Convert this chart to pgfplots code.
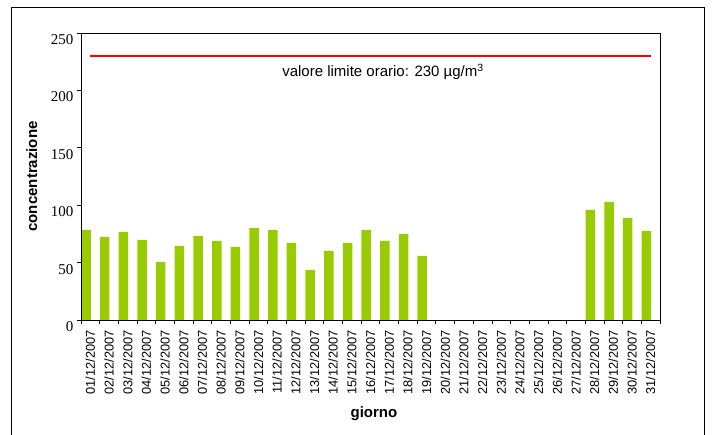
\documentclass[border=0pt]{standalone}
\usepackage{fontspec}
\setmainfont{Liberation Sans}
\newfontfamily\serif{Liberation Serif}
\usepackage{pgfplots}
\pgfplotsset{compat=1.18}
\definecolor{barg}{RGB}{153,204,0}

\begin{document}
\begin{tikzpicture}[x=1pt,y=1pt]
\useasboundingbox (0,0) rectangle (712,435);
\clip (0,0) rectangle (712,435);
% outer chart frame (its bottom edge lies below the picture)
\draw[line width=0.8pt] (11,-10) rectangle (704,428);
\begin{axis}[
    name=main,
    at={(81pt,115pt)}, anchor=south west,
    scale only axis, width=579pt, height=287pt,
    xmin=0.5, xmax=31.5, ymin=0, ymax=250,
    xtick={1,...,31},
    xticklabels={01/12/2007,02/12/2007,03/12/2007,04/12/2007,05/12/2007,06/12/2007,07/12/2007,08/12/2007,09/12/2007,10/12/2007,11/12/2007,12/12/2007,13/12/2007,14/12/2007,15/12/2007,16/12/2007,17/12/2007,18/12/2007,19/12/2007,20/12/2007,21/12/2007,22/12/2007,23/12/2007,24/12/2007,25/12/2007,26/12/2007,27/12/2007,28/12/2007,29/12/2007,30/12/2007,31/12/2007},
    minor xtick={0.5,1.5,...,31.5},
    major x tick style={draw opacity=0},
    ytick={0,50,...,250},
    xtick pos=left, ytick pos=left,
    tick align=outside, major tick length=4pt, minor tick length=4pt,
    every tick/.style={black, line width=0.8pt},
    axis line style={black, line width=0.8pt},
    x tick label style={rotate=90, anchor=east, inner xsep=6pt, font=\fontsize{12.8}{12.8}\selectfont},
    y tick label style={font=\serif\fontsize{15}{15}\selectfont, yshift=-6.5pt, /pgf/number format/assume math mode=true},
    xlabel={giorno}, ylabel={concentrazione},
    label style={font=\bfseries\fontsize{15}{15}\selectfont},
    xlabel style={at={(axis description cs:0.506,-0.338)}, anchor=base},
    ylabel style={at={(axis description cs:-0.085,0.5)}, anchor=center},
]
\addplot[ybar, bar width=9.5pt, bar shift=-4.3pt, fill=barg, draw=none] coordinates {
    (1,78.5) (2,72.4) (3,76.7) (4,69.8) (5,50.6) (6,64.5) (7,73.3) (8,68.9)
    (9,63.7) (10,80.2) (11,78.5) (12,67.2) (13,43.6) (14,60.2) (15,67.2)
    (16,78.5) (17,68.9) (18,75.0) (19,55.8)
    (28,95.9) (29,102.9) (30,89.0) (31,77.6)
};
% limit value line
\addplot[red, line width=2pt] coordinates {(1,230) (31,230)};
\node[anchor=base, font=\fontsize{15}{15}\selectfont] at (axis cs:16.67,211.7) {valore limite orario: 230 µg/m\textsuperscript{3}};
\end{axis}
\draw[black, line width=0.8pt] (main.south west) rectangle (main.north east);
\end{tikzpicture}
\end{document}
